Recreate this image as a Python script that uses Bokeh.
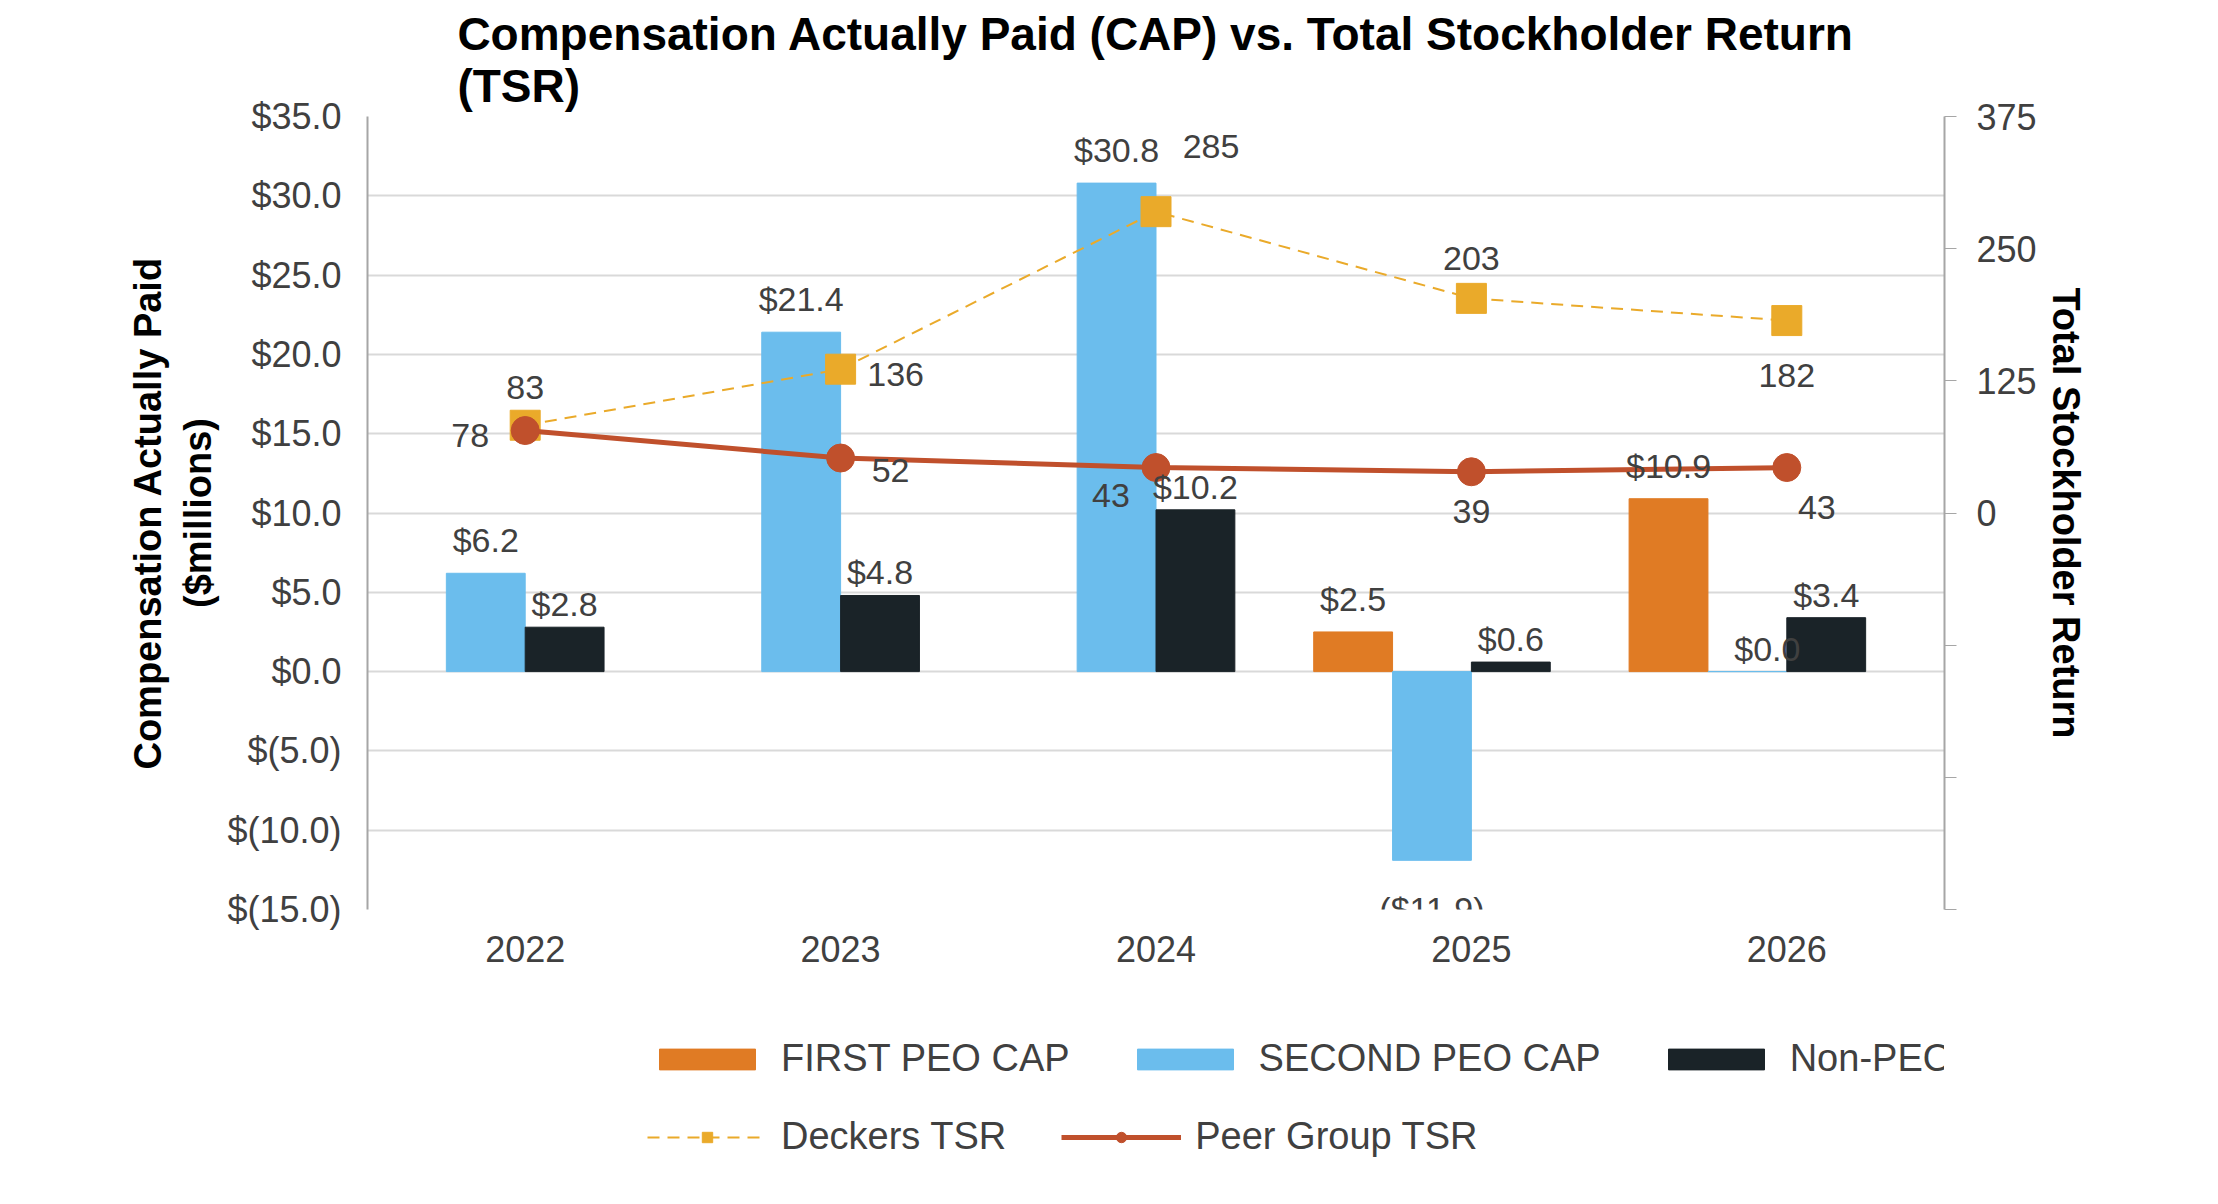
import numpy as np
from bokeh.plotting import figure
from bokeh.layouts import column
from bokeh.models import (Range1d, LinearAxis, FixedTicker, Legend, LegendItem)
from bokeh.embed import file_html
from bokeh.resources import INLINE
from bokeh.core.properties import value

years = ["2022", "2023", "2024", "2025", "2026"]
first_peo = [np.nan, np.nan, np.nan, 2.5, 10.9]
second_peo = [6.2, 21.4, 30.8, -11.9, 0.0]
non_peo = [2.8, 4.8, 10.2, 0.6, 3.4]
deckers_tsr = [83, 136, 285, 203, 182]
peer_tsr = [78, 52, 43, 39, 43]
left_ticks = [-15, -10, -5, 0, 5, 10, 15, 20, 25, 30, 35]
right_ticks = [-375, -250, -125, 0, 125, 250, 375]

FONT = "Liberation Sans"
GREY = "#404040"
C_OR, C_BL, C_BK, C_DK, C_PR = "#E07B24", "#6BBDED", "#1A2328", "#EAAA2A", "#C0502C"

x = np.arange(len(years))
p = figure(width=2200, height=1000, output_backend="svg", toolbar_location=None,
           x_range=Range1d(-0.5, 4.5), y_range=Range1d(-15, 35),
           min_border_left=367, min_border_right=256, min_border_top=40, min_border_bottom=91)
p.extra_y_ranges = {"tsr": Range1d(-375, 375)}
p.title.text = "Compensation Actually Paid (CAP) vs. Total Stockholder Return\n(TSR)"
p.title.align = "center"
p.title.text_font = FONT
p.title.text_font_size = "46px"
p.title.text_font_style = "bold"
p.title.text_color = "black"
p.title.offset = -180
p.outline_line_color = None

p.xgrid.visible = False
p.ygrid.grid_line_color = "#D9D9D9"
p.ygrid.grid_line_width = 2
p.yaxis.ticker = FixedTicker(ticks=left_ticks)
p.yaxis.major_label_overrides = {t: (f"${t:.1f}" if t >= 0 else f"$({-t:.1f})") for t in left_ticks}
p.yaxis.axis_label = "Compensation Actually Paid\n($millions)"
ax_r = LinearAxis(y_range_name="tsr", ticker=FixedTicker(ticks=right_ticks),
                  axis_label="Total Stockholder Return")
ax_r.major_label_overrides = {t: (str(t) if t >= 0 else "") for t in right_ticks}
p.add_layout(ax_r, "right")
p.xaxis.ticker = FixedTicker(ticks=list(x))
p.xaxis.major_label_overrides = {int(i): y for i, y in zip(x, years)}

for ax in [p.yaxis[0], ax_r, p.xaxis[0]]:
    ax.major_label_text_font = FONT
    ax.major_label_text_font_size = "36px"
    ax.major_label_text_color = GREY
    ax.axis_label_text_font = FONT
    ax.axis_label_text_font_size = "38px"
    ax.axis_label_text_font_style = "bold"
    ax.axis_label_text_color = "black"
    ax.axis_line_color = "#A6A6A6"
    ax.axis_line_width = 2
    ax.major_tick_line_color = "#A6A6A6"
    ax.minor_tick_line_color = None
p.yaxis[0].major_tick_line_color = None
p.xaxis[0].major_tick_line_color = None
p.xaxis[0].axis_line_color = None
p.xaxis[0].major_label_standoff = 20
ax_r.major_tick_out = 12
ax_r.major_tick_in = 0
ax_r.major_label_standoff = 20
p.yaxis[0].major_label_standoff = 20

w = 0.25
p.vbar(x=x - 0.375, top=first_peo, width=w, color=C_OR)
p.vbar(x=x - 0.125, top=second_peo, width=w, color=C_BL)
p.vbar(x=x + 0.125, top=non_peo, width=w, color=C_BK)
p.line(x, deckers_tsr, y_range_name="tsr", color=C_DK, line_width=2, line_dash="12 8")
p.scatter(x, deckers_tsr, y_range_name="tsr", marker="square", size=30, color=C_DK)
p.line(x, peer_tsr, y_range_name="tsr", color=C_PR, line_width=5)
p.scatter(x, peer_tsr, y_range_name="tsr", marker="circle", size=28, color=C_PR)

def money(v):
    return f"${v:.1f}" if v >= 0 else f"(${-v:.1f})"

tk = dict(text_font=value(FONT), text_font_size="34px", text_color=GREY, text_align="center")
for i in x:
    if not np.isnan(first_peo[i]):
        p.text([i - 0.375], [first_peo[i]], text=[money(first_peo[i])], y_offset=-14,
               text_baseline="bottom", **tk)
    sv = second_peo[i]
    if sv < 0:
        p.text([i - 0.125], [sv], text=[money(sv)], y_offset=30, text_baseline="top", **tk)
    elif sv == 0:
        p.text([i - 0.125], [sv], text=[money(sv)], x_offset=20, y_offset=-4,
               text_baseline="bottom", **tk)
    else:
        p.text([i - 0.125], [sv], text=[money(sv)], y_offset=-14, text_baseline="bottom", **tk)
    p.text([i + 0.125], [non_peo[i]], text=[money(non_peo[i])], y_offset=-4,
           text_baseline="bottom", **tk)

d_off = [(0, -38), (55, 5), (55, -65), (0, -40), (0, 55)]
p_off = [(-55, 5), (50, 12), (-45, 28), (0, 40), (30, 40)]
for i in x:
    p.text([i], [deckers_tsr[i]], text=[str(deckers_tsr[i])], y_range_name="tsr",
           x_offset=d_off[i][0], y_offset=d_off[i][1], text_baseline="middle", **tk)
    p.text([i], [peer_tsr[i]], text=[str(peer_tsr[i])], y_range_name="tsr",
           x_offset=p_off[i][0], y_offset=p_off[i][1], text_baseline="middle", **tk)

# legend figure
lg = figure(width=2200, height=185, output_backend="svg", toolbar_location=None,
            x_range=Range1d(0, 1), y_range=Range1d(0, 1), min_border=0)
lg.axis.visible = False
lg.grid.visible = False
lg.outline_line_color = None
e = [np.nan]
rf = lg.vbar(x=e, top=e, width=0.1, color=C_OR)
rs = lg.vbar(x=e, top=e, width=0.1, color=C_BL)
rn = lg.vbar(x=e, top=e, width=0.1, color=C_BK)
ld = lg.line(e, e, color=C_DK, line_width=2, line_dash="12 8")
sd = lg.scatter(e, e, marker="square", size=30, color=C_DK)
lp = lg.line(e, e, color=C_PR, line_width=5)
sp = lg.scatter(e, e, marker="circle", size=28, color=C_PR)
common = dict(orientation="horizontal", border_line_color=None, background_fill_alpha=0,
              label_text_font=FONT, label_text_font_size="38px", label_text_color=GREY,
              glyph_width=120, glyph_height=26, spacing=55, label_standoff=14, padding=0)
leg1 = Legend(items=[LegendItem(label="FIRST PEO CAP", renderers=[rf]),
                     LegendItem(label="SECOND PEO CAP", renderers=[rs]),
                     LegendItem(label="Non-PEO NEO CAP", renderers=[rn])],
              location=(280, 105), **common)
leg2 = Legend(items=[LegendItem(label="Deckers TSR", renderers=[ld, sd]),
                     LegendItem(label="Peer Group TSR", renderers=[lp, sp])],
              location=(280, 27), **common)
lg.add_layout(leg1)
lg.add_layout(leg2)

open("out.html", "w").write(file_html(column(p, lg, spacing=0), INLINE))
